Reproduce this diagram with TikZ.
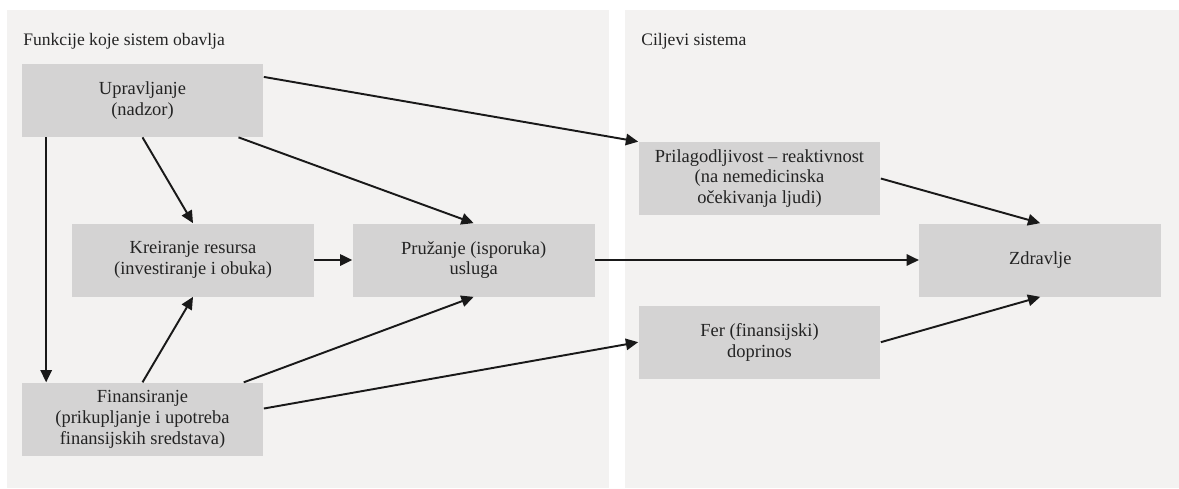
\documentclass[tikz,border=0pt]{standalone}
\usepackage{fontspec}
\setmainfont{Liberation Serif}
\usetikzlibrary{positioning}
\usetikzlibrary{arrows.meta}
\definecolor{panelgray}{RGB}{243,242,241}
\definecolor{boxgray}{RGB}{212,211,211}
\definecolor{textgray}{RGB}{35,35,35}
\tikzset{box node/.style={rectangle,fill=boxgray,text=textgray,minimum width=4.84cm,minimum height=1.46cm,inner sep=2pt,align=center,font=\fontsize{10.5}{11.8}\selectfont},}
\tikzset{head node/.style={anchor=base west,inner sep=0pt,text=textgray,font=\fontsize{10}{12}\selectfont},}
\tikzset{link/.style={line width=1.1pt,color=black!90,-{Triangle[length=7pt,width=6.5pt]}},}

\begin{document}
\begin{tikzpicture}[x=0.02cm,y=-0.02cm]
          \useasboundingbox (0,0) rectangle (1179,488);
          % panels
          \fill[panelgray] (7,10) rectangle (609,488);
          \fill[panelgray] (625,10) rectangle (1179,488);
          \node[head node] (f) at (23,45) {Funkcije koje sistem obavlja};
          \node[head node] (c) at (641,45) {Ciljevi sistema};

          \node[box node] (1) at (142.5,100.5) {Upravljanje\\(nadzor)};
          \node[box node] (2) at (193,260) {Kreiranje resursa\\(investiranje i obuka)};
          \node[box node] (3) [right = 0.76cm of 2] {Pružanje (isporuka)\\usluga};
          \node[box node] (4) [below = 4.9cm of 1] {Finansiranje\\(prikupljanje i upotreba\\finansijskih sredstava)};
          \node[box node] (5) at (759.5,178.5) {Prilagodljivost -- reaktivnost\\(na nemedicinska\\očekivanja ljudi)};
          \node[box node] (6) [right = 6.48cm of 3] {Zdravlje};
          \node[box node] (7) [below = 1.8cm of 5] {Fer (finansijski)\\doprinos};

          \path[link]
          (1.11) edge (5.north west)
          (1.south) edge (2.north)
          (1.-21) edge (3.north)
          ([xshift=0.5cm]1.south west) edge ([xshift=0.5cm]4.north west)
          (2) edge (3)
          (4.north) edge (2.south)
          (4.20) edge (3.south)
          (4.5) edge (7.west)
          (3) edge (6)
          (5.east) edge (6.north)
          (7.east) edge (6.south);
        \end{tikzpicture}
\end{document}
